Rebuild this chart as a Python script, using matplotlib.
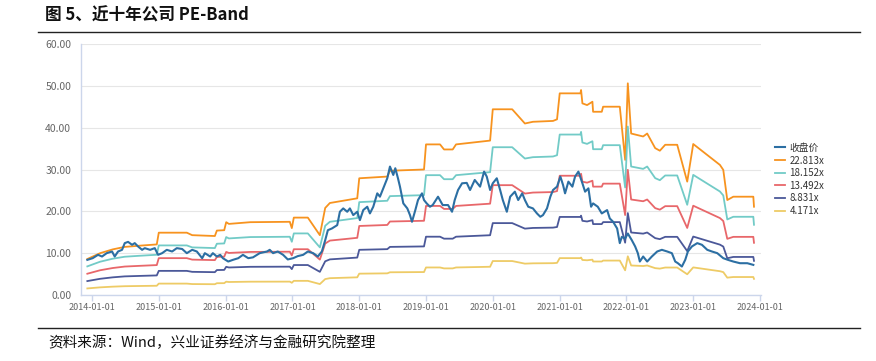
import numpy as np
import matplotlib
matplotlib.use("Agg")
import matplotlib.pyplot as plt
from datetime import datetime

plt.rcParams['font.family'] = ['Noto Sans CJK SC', 'DejaVu Sans']

# ---------------- data ----------------
# closing price (decimal year, value)
price_t = [2013.93, 2014.01, 2014.09, 2014.15, 2014.22, 2014.30, 2014.34, 2014.39, 2014.45, 2014.49,
           2014.54, 2014.60, 2014.64, 2014.69, 2014.75, 2014.79, 2014.87, 2014.94, 2014.99, 2015.05,
           2015.12, 2015.20, 2015.27, 2015.35, 2015.42, 2015.50, 2015.57, 2015.65, 2015.69, 2015.77,
           2015.81, 2015.87, 2015.92, 2015.96, 2016.04, 2016.11, 2016.19, 2016.26, 2016.34, 2016.41,
           2016.51, 2016.62, 2016.66, 2016.71, 2016.78, 2016.86, 2016.93, 2017.01, 2017.08, 2017.16,
           2017.23, 2017.31, 2017.38, 2017.44, 2017.49, 2017.53, 2017.59, 2017.67, 2017.71, 2017.76,
           2017.82, 2017.86, 2017.91, 2017.97, 2018.01, 2018.06, 2018.12, 2018.16, 2018.21, 2018.27,
           2018.31, 2018.36, 2018.42, 2018.46, 2018.51, 2018.54, 2018.58, 2018.61, 2018.66, 2018.72,
           2018.76, 2018.79, 2018.84, 2018.88, 2018.94, 2018.97, 2019.01, 2019.06, 2019.10, 2019.18,
           2019.25, 2019.33, 2019.39, 2019.43, 2019.48, 2019.54, 2019.61, 2019.66, 2019.73, 2019.81,
           2019.87, 2019.91, 2019.96, 2020.00, 2020.06, 2020.11, 2020.15, 2020.21, 2020.26, 2020.33,
           2020.38, 2020.44, 2020.48, 2020.53, 2020.60, 2020.66, 2020.71, 2020.75, 2020.81, 2020.86,
           2020.90, 2020.96, 2021.01, 2021.05, 2021.08, 2021.13, 2021.19, 2021.23, 2021.28, 2021.34,
           2021.38, 2021.43, 2021.47, 2021.50, 2021.57, 2021.63, 2021.71, 2021.75, 2021.80, 2021.86,
           2021.90, 2021.93, 2021.98, 2022.02, 2022.08, 2022.13, 2022.17, 2022.20, 2022.25, 2022.31,
           2022.38, 2022.46, 2022.53, 2022.61, 2022.68, 2022.73, 2022.77, 2022.83, 2022.88, 2022.92,
           2022.98, 2023.06, 2023.13, 2023.21, 2023.28, 2023.36, 2023.45, 2023.52, 2023.60, 2023.70,
           2023.81, 2023.90]
price_v = [8.4, 8.8, 9.6, 9.2, 10.0, 10.4, 9.2, 10.4, 10.8, 12.4,
           12.7, 12.0, 12.4, 11.6, 10.8, 11.2, 10.8, 11.2, 9.6, 10.0,
           10.8, 10.4, 11.2, 11.0, 10.0, 10.8, 10.4, 8.8, 10.0, 9.2,
           10.0, 9.2, 9.6, 8.8, 8.0, 8.4, 8.8, 9.6, 8.8, 9.0,
           10.0, 10.4, 10.8, 10.0, 10.4, 9.6, 8.5, 8.8, 9.3, 9.6,
           10.4, 10.0, 9.2, 10.4, 13.1, 15.5, 15.9, 16.7, 19.9, 20.7,
           19.9, 20.7, 19.1, 19.9, 17.9, 20.3, 21.1, 19.5, 21.1, 24.3,
           23.5, 25.5, 27.9, 30.7, 28.7, 30.3, 27.9, 25.9, 21.9, 20.7,
           19.1, 17.5, 20.3, 22.7, 24.3, 22.7, 21.9, 21.1, 21.5, 23.5,
           21.5, 21.5, 19.9, 22.7, 25.1, 26.7, 26.8, 25.1, 27.5, 25.9,
           29.5, 28.3, 25.1, 26.7, 27.9, 25.1, 22.7, 19.9, 23.5, 24.7,
           22.7, 24.3, 22.7, 21.1, 20.7, 19.5, 18.7, 19.1, 20.7, 23.5,
           25.1, 25.9, 28.3, 26.3, 24.3, 27.1, 25.9, 28.3, 29.5, 26.7,
           24.7, 25.5, 21.1, 21.9, 21.1, 19.5, 20.3, 18.3, 17.5, 15.9,
           12.4, 13.9, 13.5, 14.7, 13.1, 11.6, 10.0, 8.0, 9.2, 8.0,
           9.2, 10.4, 10.8, 10.4, 10.0, 8.0, 7.6, 6.8, 8.4, 10.4,
           11.6, 12.4, 12.0, 10.8, 10.4, 10.0, 8.8, 8.4, 8.0, 7.6,
           7.6, 7.2]

# trailing EPS used for the PE bands (decimal year, value)
eps_t = [2013.93, 2014.12, 2014.31, 2014.49, 2014.72, 2014.97, 2015.00, 2015.42, 2015.50, 2015.84,
         2015.87, 2015.98, 2016.01, 2016.05, 2016.37, 2016.96, 2016.99, 2017.02, 2017.23, 2017.41,
         2017.49, 2017.56, 2017.97, 2018.00, 2018.42, 2018.46, 2018.97, 2019.00, 2019.21, 2019.27,
         2019.40, 2019.45, 2019.96, 2020.00, 2020.29, 2020.48, 2020.60, 2020.90, 2020.96, 2021.00,
         2021.31, 2021.32, 2021.34, 2021.41, 2021.49, 2021.50, 2021.63, 2021.65, 2021.90, 2021.98,
         2022.02, 2022.07, 2022.25, 2022.31, 2022.43, 2022.50, 2022.58, 2022.76, 2022.91, 2023.00,
         2023.40, 2023.45, 2023.51, 2023.60, 2023.90, 2023.91]
eps_v = [0.377, 0.438, 0.478, 0.504, 0.517, 0.530, 0.653, 0.653, 0.627, 0.618,
         0.675, 0.679, 0.763, 0.745, 0.763, 0.767, 0.701, 0.811, 0.811, 0.627,
         0.912, 0.964, 1.013, 1.223, 1.241, 1.302, 1.315, 1.578, 1.578, 1.525,
         1.525, 1.578, 1.618, 1.946, 1.946, 1.797, 1.815, 1.824, 1.841, 2.113,
         2.113, 2.148, 2.008, 1.990, 2.025, 1.920, 1.920, 1.973, 1.973, 1.416,
         2.218, 1.692, 1.661, 1.692, 1.539, 1.512, 1.574, 1.574, 1.188, 1.582,
         1.363, 1.311, 0.995, 1.030, 1.030, 0.925]

multiples = [22.813, 18.152, 13.492, 8.831, 4.171]
band_labels = ['22.813x', '18.152x', '13.492x', '8.831x', '4.171x']
price_label = '收盘价'
y_ticks = [0, 10, 20, 30, 40, 50, 60]
x_tick_years = list(range(2014, 2025))

title = '图 5、近十年公司 PE-Band'
source = '资料来源：Wind，兴业证券经济与金融研究院整理'

# ---------------- helpers ----------------
def to_date(t):
    y = int(np.floor(t))
    a = datetime(y, 1, 1)
    b = datetime(y + 1, 1, 1)
    return a + (b - a) * (t - y)

price_d = [to_date(t) for t in price_t]
eps_d = [to_date(t) for t in eps_t]

colors_price = '#2c6fa3'
band_colors = ['#f7931f', '#72cbc7', '#e8676a', '#4b5899', '#eecb66']

# ---------------- figure ----------------
fig = plt.figure(figsize=(8.76, 3.61), dpi=100)
W, H = 876, 361

def fx(px):
    return px / W

def fy(py):
    return 1 - py / H

# title and rules
fig.text(fx(45), fy(15), title, fontsize=12, fontweight='bold', va='center', ha='left',
         color='#111111')
fig.add_artist(plt.Line2D([fx(38), fx(860)], [fy(32), fy(32)], color='#222222', lw=1.0))
fig.add_artist(plt.Line2D([fx(38), fx(860)], [fy(328), fy(328)], color='#222222', lw=1.0))
fig.text(fx(48), fy(343), source, fontsize=10.5, va='center', ha='left', color='#111111')

ax = fig.add_axes([fx(81), fy(295), fx(761) - fx(81), fy(44) - fy(295)])

ax.plot(price_d, price_v, color=colors_price, lw=1.5, label=price_label, zorder=5)
eps_arr = np.array(eps_v)
for m, lab, c in zip(multiples, band_labels, band_colors):
    ax.plot(eps_d, eps_arr * m, color=c, lw=1.3, label=lab)

ax.set_ylim(0, 60)
ax.set_xlim(to_date(2013.835), to_date(2024.015))
ax.set_yticks(y_ticks)
ax.set_yticklabels([f'{v:.2f}' for v in y_ticks])
xt = [datetime(y, 1, 1) for y in x_tick_years]
ax.set_xticks(xt)
ax.set_xticklabels([f'{y}-01-01' for y in x_tick_years])

ax.grid(axis='y', color='#e6e6e6', lw=0.8)
ax.set_axisbelow(True)
for s in ['top', 'right']:
    ax.spines[s].set_visible(False)
for s in ['left', 'bottom']:
    ax.spines[s].set_color('#ccd6eb')
    ax.spines[s].set_linewidth(1.0)
ax.tick_params(axis='y', length=0, pad=7, labelsize=7.5, labelcolor='#666666')
ax.tick_params(axis='x', length=4, width=1, color='#ccd6eb', pad=1.5, labelsize=6.5,
               labelcolor='#666666')

leg = fig.legend(loc='upper left', bbox_to_anchor=(fx(771), fy(139)), frameon=False,
                 fontsize=7, handlelength=1.0, handletextpad=0.5, labelspacing=0.27,
                 borderaxespad=0)
for t in leg.get_texts():
    t.set_color('#333333')

fig.savefig('out.png', dpi=100)
